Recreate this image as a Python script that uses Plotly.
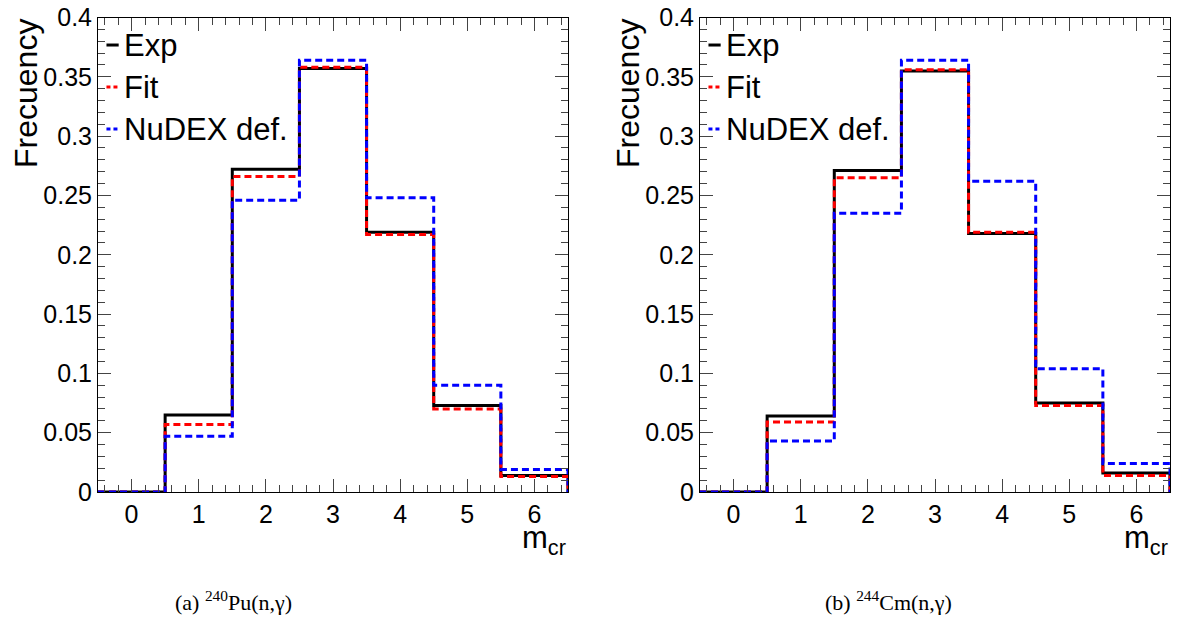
import plotly.graph_objects as go

# multiplicity bins (centres) and frequencies
m_cr = [0, 1, 2, 3, 4, 5, 6]
pu_exp = [0.0, 0.065, 0.272, 0.357, 0.219, 0.073, 0.014]
pu_fit = [0.0, 0.057, 0.266, 0.358, 0.217, 0.070, 0.013]
pu_nudex = [0.0, 0.047, 0.246, 0.364, 0.248, 0.090, 0.019]
cm_exp = [0.0, 0.064, 0.271, 0.355, 0.218, 0.075, 0.016]
cm_fit = [0.0, 0.059, 0.265, 0.356, 0.219, 0.073, 0.014]
cm_nudex = [0.0, 0.043, 0.235, 0.364, 0.262, 0.104, 0.024]

series_names = ["Exp", "Fit", "NuDEX def."]
captions = ["(a) <sup>240</sup>Pu(n,γ)", "(b) <sup>244</sup>Cm(n,γ)"]

styles = [
    dict(color="black", width=3, dash="solid"),
    dict(color="#ff0000", width=3, dash="7px,4px"),
    dict(color="#0000ff", width=3, dash="7px,4px"),
]


def step_xy(centres, values):
    # ROOT-like histogram outline: left edges, then drop to 0 at the last edge
    xs = [c - 0.5 for c in centres] + [centres[-1] + 0.5, centres[-1] + 0.5]
    ys = list(values) + [values[-1], 0.0]
    return xs, ys


W, H = 1177, 617
panels = [
    dict(x0=98, x1=568, data=[pu_exp, pu_fit, pu_nudex], cap_x=233),
    dict(x0=700, x1=1170, data=[cm_exp, cm_fit, cm_nudex], cap_x=888),
]
y_top, y_bot = 17.5, 492

fig = go.Figure()
font_main = "Liberation Sans, Arial, sans-serif"
tick_col = "#444"

for i, p in enumerate(panels):
    n = 4 * i
    xa = "" if i == 0 else str(n + 1)
    ya = "" if i == 0 else str(n + 2)
    xt, yr = str(n + 3), str(n + 4)

    for name, vals, st in zip(series_names, p["data"], styles):
        xs, ys = step_xy(m_cr, vals)
        fig.add_trace(go.Scatter(
            x=xs, y=ys, mode="lines", line_shape="hv", name=name,
            line=st, showlegend=False, hoverinfo="skip",
            xaxis="x" + xa, yaxis="y" + ya,
        ))
    # invisible trace so the mirrored (top / right) tick axes get drawn
    fig.add_trace(go.Scatter(x=[m_cr[0]], y=[0], mode="markers", marker=dict(opacity=0),
                             showlegend=False, hoverinfo="skip",
                             xaxis="x" + xt, yaxis="y" + yr))

    xdom = [p["x0"] / W, p["x1"] / W]
    ydom = [1 - y_bot / H, 1 - y_top / H]
    common = dict(ticks="inside", tickwidth=1, tickcolor=tick_col, ticklen=13,
                  showgrid=False, zeroline=False, automargin=False)
    xminor = dict(ticks="inside", ticklen=7, dtick=0.2, tickcolor=tick_col, showgrid=False)
    yminor = dict(ticks="inside", ticklen=7, dtick=0.01, tickcolor=tick_col, showgrid=False)

    fig.layout["xaxis" + xa] = dict(
        common, domain=xdom, anchor="y" + ya, range=[-0.5, 6.5], dtick=1, tick0=0,
        showline=True, linecolor="black", linewidth=1, mirror=True,
        tickfont=dict(family=font_main, size=25, color="black"), minor=xminor,
    )
    fig.layout["yaxis" + ya] = dict(
        common, domain=ydom, anchor="x" + xa, range=[0, 0.4], dtick=0.05, tick0=0,
        showline=True, linecolor="black", linewidth=1, mirror=True,
        tickfont=dict(family=font_main, size=25, color="black"), minor=yminor,
    )
    fig.layout["xaxis" + xt] = dict(
        common, domain=xdom, anchor="y" + yr, overlaying="x" + xa, side="top",
        range=[-0.5, 6.5], dtick=1, tick0=0, showticklabels=False, minor=xminor,
    )
    fig.layout["yaxis" + yr] = dict(
        common, domain=ydom, anchor="x" + xt, overlaying="y" + ya, side="right",
        range=[0, 0.4], dtick=0.05, tick0=0, showticklabels=False, minor=yminor,
    )

    xd = "x" + xa + " domain"
    yd = "y" + ya + " domain"
    # legend (ROOT TLegend style, no border)
    for k, (name, st) in enumerate(zip(series_names, styles)):
        yy = [0.942, 0.8535, 0.765][k]
        fig.add_shape(type="line", xref=xd, yref=yd, x0=0.018, x1=0.044, y0=yy, y1=yy,
                      line=dict(color=st["color"], width=3, dash="4px,3px" if k else "solid"))
        fig.add_annotation(xref=xd, yref=yd, x=0.052, y=yy, text=name, showarrow=False,
                           xanchor="left", yanchor="middle",
                           font=dict(family=font_main, size=31, color="black"))
    # y title
    fig.add_annotation(xref="paper", yref=yd, x=(p["x0"] - 92) / W, y=1.0, text="Frecuency",
                       textangle=-90, showarrow=False, xanchor="left", yanchor="top",
                       font=dict(family=font_main, size=32, color="black"))
    # x title
    fig.add_annotation(xref=xd, yref="paper", x=1.0, y=1 - 540 / H, text="m<sub>cr</sub>",
                       showarrow=False, xanchor="right", yanchor="middle",
                       font=dict(family=font_main, size=31, color="black"))
    # caption
    fig.add_annotation(xref="paper", yref="paper", x=p["cap_x"] / W, y=1 - 601 / H,
                       text=captions[i], showarrow=False, xanchor="center", yanchor="middle",
                       font=dict(family="Liberation Serif, DejaVu Serif, serif", size=22, color="black"))

fig.update_layout(
    width=W, height=H, margin=dict(l=0, r=0, t=0, b=0),
    paper_bgcolor="white", plot_bgcolor="white", showlegend=False,
)

# the page body has a default 8px margin; remove it so the figure fills the window
fig.write_html("out.html", config={"displayModeBar": False},
               post_script="document.body.style.margin='0';document.body.style.overflow='hidden';")
